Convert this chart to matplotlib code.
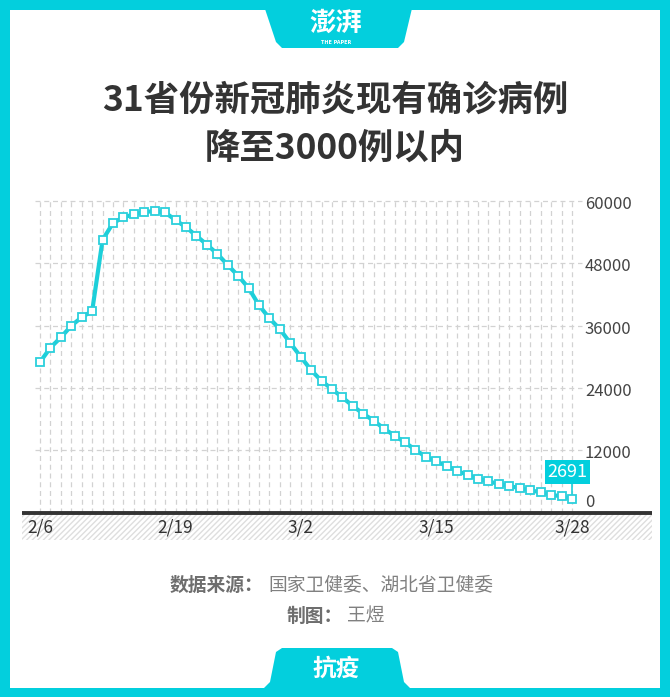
import matplotlib
matplotlib.use("Agg")
import matplotlib.pyplot as plt
from matplotlib.patches import Rectangle, Polygon

plt.rcParams['font.family'] = ['Noto Sans CJK SC', 'DejaVu Sans']

# 现有确诊病例（2/6 - 3/28）
dates = ['2/6', '2/7', '2/8', '2/9', '2/10', '2/11', '2/12', '2/13', '2/14', '2/15',
         '2/16', '2/17', '2/18', '2/19', '2/20', '2/21', '2/22', '2/23', '2/24', '2/25',
         '2/26', '2/27', '2/28', '2/29', '3/1', '3/2', '3/3', '3/4', '3/5', '3/6',
         '3/7', '3/8', '3/9', '3/10', '3/11', '3/12', '3/13', '3/14', '3/15', '3/16',
         '3/17', '3/18', '3/19', '3/20', '3/21', '3/22', '3/23', '3/24', '3/25', '3/26',
         '3/27', '3/28']
cases = [28985, 31774, 33738, 35982, 37626, 38800, 52526, 55748, 56873, 57416,
         57934, 58016, 57805, 56303, 54965, 53284, 51606, 49824, 47672, 45604,
         43258, 39919, 37414, 35329, 32652, 30004, 27433, 25352, 23784, 22177,
         20533, 19016, 17721, 16145, 14831, 13526, 12094, 10734, 9898, 8976,
         8056, 7263, 6569, 6013, 5549, 5120, 4735, 4287, 3947, 3460,
         3128, 2691]
xtick_labels = ['2/6', '2/19', '3/2', '3/15', '3/28']
ytick_values = [0, 12000, 24000, 36000, 48000, 60000]

CYAN = '#03cfdd'
LINE = '#1ccfd9'

W, H = 670, 697
fig = plt.figure(figsize=(W / 100, H / 100), dpi=100)
fig.patch.set_facecolor(CYAN)

# 背景层（像素坐标）
bg = fig.add_axes([0, 0, 1, 1])
bg.set_xlim(0, W)
bg.set_ylim(H, 0)
bg.axis('off')
bg.add_patch(Rectangle((10, 10), W - 20, 678, facecolor='white', edgecolor='none'))
# 顶部标签
bg.add_patch(Polygon([(262, 0), (414, 0), (404, 42), (398, 48), (282, 48), (276, 42)],
                     closed=True, facecolor=CYAN, edgecolor='none', joinstyle='round'))
bg.text(336, 23, '澎湃', color='white', fontsize=19, fontweight='bold',
        ha='center', va='center', fontstyle='italic')
bg.text(336, 42, 'THE PAPER', color='white', fontsize=3.5, fontweight='bold',
        ha='center', va='center', family='DejaVu Sans')
# 底部标签
bg.add_patch(Polygon([(262, 690), (270, 682), (276, 652), (282, 648), (392, 648),
                      (398, 652), (404, 682), (412, 690)],
                     closed=True, facecolor=CYAN, edgecolor='none'))
bg.text(336, 669, '抗疫', color='white', fontsize=17, fontweight='bold',
        ha='center', va='center')

# 标题
bg.text(335, 100, '31省份新冠肺炎现有确诊病例', color='#333333', fontsize=25.5,
        fontweight='bold', ha='center', va='center')
bg.text(335, 148, '降至3000例以内', color='#333333', fontsize=25.5,
        fontweight='bold', ha='center', va='center')

# 脚注
bg.text(263, 585, '数据来源：', color='#6e6e6e', fontsize=13.5, fontweight='bold',
        ha='right', va='center')
bg.text(268, 585, '国家卫健委、湖北省卫健委', color='#808080', fontsize=13.5,
        ha='left', va='center')
bg.text(343, 616, '制图：', color='#6e6e6e', fontsize=13.5, fontweight='bold',
        ha='right', va='center')
bg.text(347, 616, '王煜', color='#808080', fontsize=13.5, ha='left', va='center')

# 主图
px_day = 10.43
px_unit = 311.7 / 60000
x0_px, y0_px = 40, 512.7
left_px, right_px, top_px, bottom_px = 22, 652, 200, 540
ax = fig.add_axes([left_px / W, (H - bottom_px) / H,
                   (right_px - left_px) / W, (bottom_px - top_px) / H])
ax.patch.set_alpha(0)
ax.set_xlim((left_px - x0_px) / px_day, (right_px - x0_px) / px_day)
ax.set_ylim(-(bottom_px - y0_px) / px_unit, 60000 + (201 - top_px) / px_unit)
ax.axis('off')

n = len(dates)
idx = list(range(n))

# 网格
ax.vlines(idx, 0, 60000, colors='#d2d2d2', linestyles=(0, (4, 3)), linewidth=0.9, zorder=1)
for v in ytick_values[1:]:
    ax.hlines(v, -0.48, 52, colors='#d2d2d2', linestyles=(0, (4, 3)), linewidth=0.9, zorder=1)

# 底部阴影带与坐标轴
ax.add_patch(Rectangle((ax.get_xlim()[0], ax.get_ylim()[0]),
                       ax.get_xlim()[1] - ax.get_xlim()[0], -ax.get_ylim()[0],
                       facecolor='white', edgecolor='#dedede', hatch='//////',
                       linewidth=0, zorder=1))
ax.axhline(0, color='#333333', linewidth=2.8, zorder=3)

# y 轴标签（右侧）
for v in ytick_values:
    yy = 1900 if v == 0 else v - 650
    ax.text(52.25, yy, str(v), color='#444444', fontsize=12, ha='left', va='center')

# x 轴标签
for lab in xtick_labels:
    i = dates.index(lab)
    ax.text(i, -(528 - y0_px) / px_unit, lab, color='#333333', fontsize=12.5,
            ha='center', va='center')

# 折线
ax.plot(idx, cases, color=LINE, linewidth=3, zorder=4)
ax.plot(idx, cases, linestyle='none', marker='s', markersize=5.2,
        markerfacecolor='white', markeredgecolor='#2bd0dc', markeredgewidth=1.3, zorder=5)

# 最新值标注
last = cases[-1]
ax.plot([n - 1, n - 1], [last, 5900], color=LINE, linewidth=1.2, zorder=4)
ax.text(n - 1.4, 7800, f'{last}', color='white', fontsize=13, ha='center', va='center',
        zorder=6, bbox=dict(boxstyle='square,pad=0.15', facecolor=CYAN, edgecolor='none'))

fig.savefig('out.png', dpi=100, facecolor=fig.get_facecolor())
